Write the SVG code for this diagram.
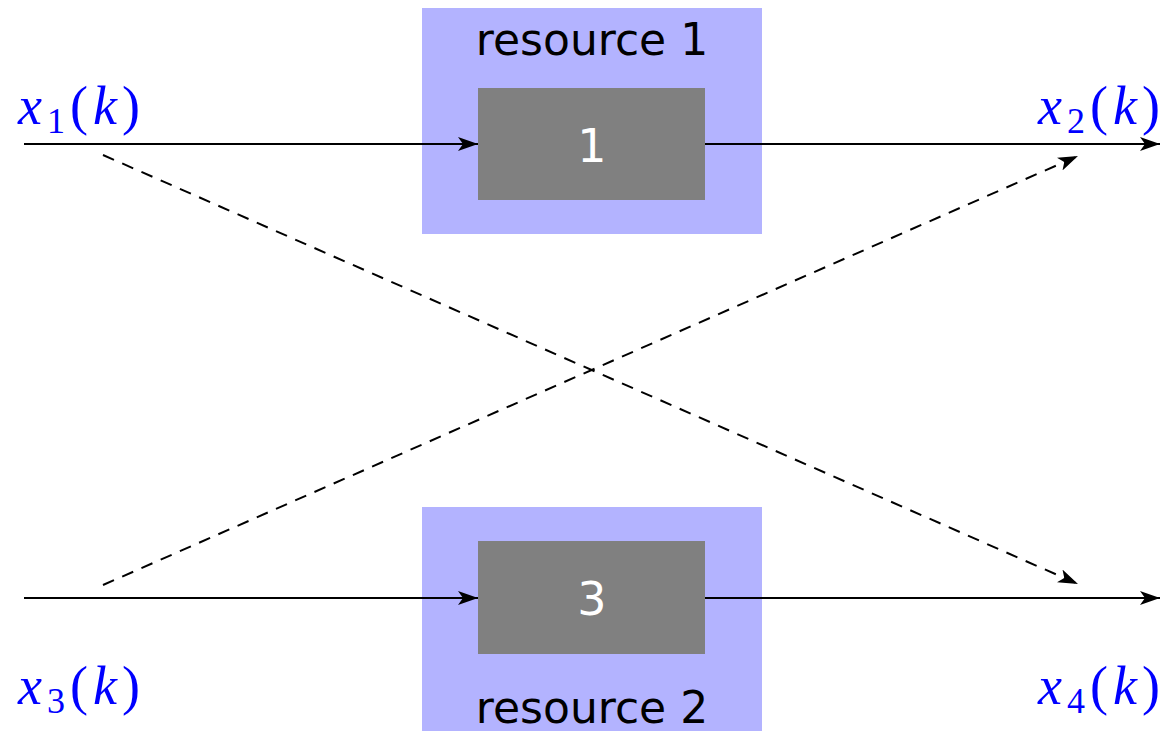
<svg xmlns="http://www.w3.org/2000/svg" width="1167" height="731" viewBox="0 0 1167 731">
<style>
.res{fill:#b3b3ff}
.blk{fill:#808080}
.rt{font-family:"DejaVu Sans","Liberation Sans",sans-serif;font-size:44px;fill:#000;text-anchor:middle}
.bt{font-family:"DejaVu Sans","Liberation Sans",sans-serif;font-size:46px;fill:#fff;text-anchor:middle}
.m{font-family:"Liberation Serif","DejaVu Serif",serif;font-size:54px;fill:#0000ff}
.sub{font-style:normal;font-size:36px}
.ln{stroke:#000;stroke-width:2;fill:none}
.ds{stroke-dasharray:12 9}
</style>
<defs>
<marker id="ah" markerWidth="22" markerHeight="14" refX="20" refY="7" orient="auto" markerUnits="userSpaceOnUse">
<path d="M0,0 L20,7 L0,14 L5,7 Z" fill="#000"/>
</marker>
</defs>
<g id="resource1">
<rect class="res" x="422" y="8" width="340" height="226"/>
<text class="rt" x="592" y="55">resource 1</text>
</g>
<g id="block1">
<rect class="blk" x="478" y="88" width="227" height="112"/>
<text class="bt" x="592" y="162">1</text>
</g>
<g id="resource2">
<rect class="res" x="422" y="507" width="340" height="224"/>
<text class="rt" x="592" y="723">resource 2</text>
</g>
<g id="block3">
<rect class="blk" x="478" y="541" width="227" height="113"/>
<text class="bt" x="592" y="615">3</text>
</g>
<g id="connectors">
<line class="ln" x1="24" y1="144" x2="478" y2="144" marker-end="url(#ah)"/>
<line class="ln" x1="705" y1="144" x2="1160" y2="144" marker-end="url(#ah)"/>
<line class="ln" x1="24" y1="598" x2="478" y2="598" marker-end="url(#ah)"/>
<line class="ln" x1="705" y1="598" x2="1160" y2="598" marker-end="url(#ah)"/>
<line class="ln ds" x1="103" y1="155" x2="1078" y2="584" marker-end="url(#ah)"/>
<line class="ln ds" x1="103" y1="585" x2="1078" y2="156" marker-end="url(#ah)"/>
</g>
<g id="labels">
<text class="m" x="18" y="124" textLength="122" lengthAdjust="spacing"><tspan font-style="italic">x</tspan><tspan class="sub" dy="9">1</tspan><tspan dy="-9">(</tspan><tspan font-style="italic">k</tspan>)</text>
<text class="m" x="1038" y="124" textLength="122" lengthAdjust="spacing"><tspan font-style="italic">x</tspan><tspan class="sub" dy="9">2</tspan><tspan dy="-9">(</tspan><tspan font-style="italic">k</tspan>)</text>
<text class="m" x="18" y="704" textLength="122" lengthAdjust="spacing"><tspan font-style="italic">x</tspan><tspan class="sub" dy="9">3</tspan><tspan dy="-9">(</tspan><tspan font-style="italic">k</tspan>)</text>
<text class="m" x="1038" y="704" textLength="122" lengthAdjust="spacing"><tspan font-style="italic">x</tspan><tspan class="sub" dy="9">4</tspan><tspan dy="-9">(</tspan><tspan font-style="italic">k</tspan>)</text>
</g>
</svg>
